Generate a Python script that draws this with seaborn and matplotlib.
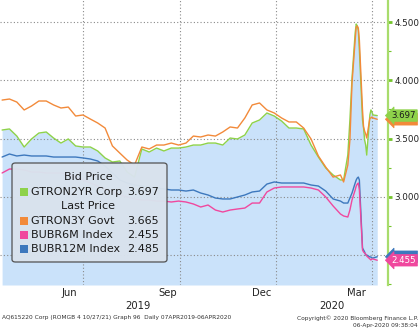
import numpy as np
import pandas as pd
import matplotlib
matplotlib.use("Agg")
import matplotlib.pyplot as plt
import matplotlib.transforms as mtransforms
from matplotlib.patches import FancyBboxPatch, Rectangle
import seaborn as sns

# ---------------- data ----------------
weekly_dates = list(pd.date_range("2019-04-15", "2020-02-24", freq="7D"))
march_dates = pd.to_datetime([
    "2020-03-02", "2020-03-05", "2020-03-09", "2020-03-11", "2020-03-13",
    "2020-03-16", "2020-03-17", "2020-03-18", "2020-03-19", "2020-03-20",
    "2020-03-23", "2020-03-24", "2020-03-25", "2020-03-26", "2020-03-27",
    "2020-03-30", "2020-03-31", "2020-04-01", "2020-04-02", "2020-04-06"])
dates = weekly_dates + list(march_dates)

gtron2yr = [3.573, 3.582, 3.521, 3.427, 3.496, 3.547, 3.556, 3.504, 3.461, 3.496,
            3.436, 3.427, 3.427, 3.393, 3.333, 3.298, 3.307, 3.212, 3.169, 3.410,
            3.384, 3.418, 3.393, 3.418, 3.418, 3.427, 3.444, 3.444, 3.461, 3.461,
            3.444, 3.504, 3.496, 3.530, 3.633, 3.659, 3.719, 3.693, 3.650, 3.590,
            3.590, 3.582, 3.444, 3.341, 3.247, 3.187,
            3.144, 3.144, 3.358, 3.659, 4.019, 4.406, 4.483, 4.466, 4.431, 4.260,
            3.659, 3.590, 3.487, 3.444, 3.358, 3.702, 3.745, 3.727, 3.702, 3.697]
gtron3y = [3.830, 3.839, 3.813, 3.745, 3.779, 3.822, 3.822, 3.788, 3.762, 3.770,
           3.693, 3.702, 3.667, 3.633, 3.590, 3.436, 3.375, 3.315, 3.272, 3.427,
           3.410, 3.444, 3.444, 3.461, 3.444, 3.461, 3.521, 3.513, 3.530, 3.521,
           3.556, 3.599, 3.590, 3.676, 3.788, 3.805, 3.745, 3.719, 3.676, 3.642,
           3.642, 3.590, 3.496, 3.350, 3.255, 3.169,
           3.187, 3.127, 3.272, 3.487, 3.976, 4.345, 4.457, 4.466, 4.448, 4.345,
           3.745, 3.599, 3.564, 3.539, 3.504, 3.676, 3.676, 3.685, 3.676, 3.665]
bubr6m = [3.204, 3.238, 3.238, 3.230, 3.212, 3.212, 3.204, 3.204, 3.204, 3.187,
          3.169, 3.144, 3.118, 3.092, 3.067, 3.041, 3.015, 2.998, 2.981, 2.972,
          2.972, 2.963, 2.963, 2.955, 2.963, 2.955, 2.938, 2.912, 2.929, 2.886,
          2.869, 2.886, 2.895, 2.903, 2.946, 2.946, 3.041, 3.075, 3.084, 3.084,
          3.084, 3.084, 3.075, 3.058, 2.998, 2.921,
          2.852, 2.835, 2.826, 2.886, 2.972, 3.058, 3.092, 3.109, 3.118, 3.058,
          2.543, 2.526, 2.517, 2.509, 2.491, 2.466, 2.457, 2.466, 2.466, 2.455]
bubr12m = [3.341, 3.367, 3.350, 3.358, 3.350, 3.350, 3.350, 3.341, 3.341, 3.341,
           3.341, 3.333, 3.324, 3.307, 3.264, 3.204, 3.144, 3.118, 3.101, 3.092,
           3.084, 3.075, 3.067, 3.058, 3.058, 3.049, 3.058, 3.032, 3.015, 2.989,
           2.981, 2.981, 2.998, 3.015, 3.041, 3.049, 3.109, 3.127, 3.118, 3.118,
           3.118, 3.118, 3.101, 3.092, 3.049, 2.981,
           2.963, 2.946, 2.946, 2.989, 3.032, 3.118, 3.144, 3.161, 3.169, 3.144,
           2.560, 2.543, 2.526, 2.500, 2.500, 2.483, 2.483, 2.474, 2.474, 2.485]

series_names = ["GTRON2YR Corp", "GTRON3Y Govt", "BUBR6M Index", "BUBR12M Index"]
series_values = [gtron2yr, gtron3y, bubr6m, bubr12m]
colors = ["#8ed24a", "#f28a3a", "#f0489e", "#3d78bd"]
y_ticks = [2.5, 3.0, 3.5, 4.0, 4.5]
y_tick_labels = ["", "3.000", "3.500", "4.000", "4.500"]   # 2.500 is covered by the value tags
y_minor_ticks = [2.25, 2.75, 3.25, 3.75, 4.25]
month_labels = ["Jun", "Sep", "Dec", "Mar"]
month_label_dates = pd.to_datetime(["2019-06-18", "2019-09-20", "2019-12-18", "2020-03-17"])
grid_dates = pd.to_datetime(["2019-07-01", "2019-10-01", "2020-01-01", "2020-04-01"])
year_labels = ["2019", "2020"]

# ---------------- figure ----------------
sns.set_theme(style="white")
plt.rcParams['font.family'] = ['DejaVu Sans']

W, H = 420, 330
fig = plt.figure(figsize=(W / 100, H / 100), dpi=100)
ax = fig.add_axes([0.0, 1 - 285 / H, 388 / W, 285 / H])
ax.set_facecolor("white")

x_left = pd.Timestamp("2019-04-13")
x_right = pd.Timestamp("2020-04-16 06:00")
y_bottom, y_top = 2.2425, 4.689

# area under the bid-price series
ax.fill_between(dates, gtron2yr, y_bottom, color="#cae2fa", lw=0, zorder=1)

# grid
for gd in grid_dates:
    ax.axvline(gd, color="#8a8a8a", lw=0.8, ls=(0, (1, 2)), zorder=2)
for yt in y_ticks:
    ax.axhline(yt, color="#8a8a8a", lw=0.8, ls=(0, (1, 2)), zorder=2)

df = pd.concat([pd.DataFrame({"date": dates, "value": v, "series": n})
                for n, v in zip(series_names, series_values)], ignore_index=True)
palette = dict(zip(series_names, colors))
draw_order = ["BUBR12M Index", "BUBR6M Index", "GTRON2YR Corp", "GTRON3Y Govt"]
for name in draw_order:
    sns.lineplot(data=df[df.series == name], x="date", y="value", color=palette[name],
                 lw=1.0, ax=ax, legend=False, zorder=3)
ax.set_xlabel("")
ax.set_ylabel("")

# spines / axes
for s in ["top", "left", "bottom"]:
    ax.spines[s].set_visible(False)
ax.spines["right"].set_color("#a8dc6c")
ax.spines["right"].set_linewidth(1.6)

ax.yaxis.tick_right()
ax.set_yticks(y_ticks)
ax.set_yticklabels(y_tick_labels)
ax.set_yticks(y_minor_ticks, minor=True)
ax.tick_params(axis="y", which="major", length=3, width=2.0, color="#74c52c",
               labelsize=6.3, labelcolor="#222222", pad=1.5)
ax.tick_params(axis="y", which="minor", length=2.5, width=0.8, color="#74c52c")

ax.set_xticks(grid_dates)
ax.set_xticklabels([""] * len(grid_dates))
ax.set_xticks(month_label_dates, minor=True)
ax.set_xticklabels(month_labels, minor=True)
ax.tick_params(axis="x", which="major", length=3, width=0.6, color="#9a9a9a",
               direction="inout")
ax.tick_params(axis="x", which="minor", length=0, labelsize=7.2,
               labelcolor="#222222", pad=2.5)

# limits last (setting ticks can widen them)
ax.set_xlim(x_left, x_right)
ax.set_ylim(y_bottom, y_top)

# year labels
yr_tr = mtransforms.blended_transform_factory(ax.transData, fig.transFigure)
jan1 = pd.Timestamp("2020-01-01")
ax.text(x_left + (jan1 - x_left) / 2, 1 - 306 / H, year_labels[0], transform=yr_tr,
        ha="center", va="center", fontsize=7.2, color="#222222", clip_on=False)
ax.text(jan1 + (x_right - jan1) / 2, 1 - 306 / H, year_labels[1], transform=yr_tr,
        ha="center", va="center", fontsize=7.2, color="#222222", clip_on=False)

# value tags on the right axis (tags hidden behind another are drawn without text)
tag_tr = mtransforms.blended_transform_factory(ax.transAxes, ax.transData)
tag_specs = [(1, "#f28a3a", "#1a1a1a", False), (0, "#8ed24a", "#1a1a1a", True),
             (3, "#3d78bd", "white", False), (2, "#f0489e", "white", True)]
for idx, fc, tc, show in tag_specs:
    v = series_values[idx][-1]
    label = f"{v:.3f}" if show else " " * 9
    ax.text(1.009, v, label, transform=tag_tr, ha="left", va="center",
            fontsize=6.2, color=tc, clip_on=False, zorder=10,
            bbox=dict(boxstyle="larrow,pad=0.15", fc=fc, ec=fc, lw=0.5))

# legend box (drawn manually to mimic Bloomberg)
def fx(px):
    return px / W

def fy(py):
    return 1 - py / H

box = FancyBboxPatch((fx(12), fy(262)), fx(167) - fx(12), fy(163) - fy(262),
                     boxstyle="round,pad=0,rounding_size=0.008",
                     transform=fig.transFigure, fc="#d9e3ed", ec="#4d4d4d",
                     lw=0.9, alpha=0.97, zorder=5)
fig.add_artist(box)
txt_kw = dict(fontsize=8, color="#1a1a1a", va="center", zorder=6)
fig.text(fx(88), fy(177), "Bid Price", ha="center", **txt_kw)
fig.text(fx(88), fy(206), "Last Price", ha="center", **txt_kw)
row_y = [192, 221, 235, 249]
for i, (name, vals, c) in enumerate(zip(series_names, series_values, colors)):
    yy = row_y[i]
    sq = Rectangle((fx(20), fy(yy + 4)), fx(28) - fx(20), fy(yy - 4) - fy(yy + 4),
                   transform=fig.transFigure, fc=c, ec="none", zorder=6)
    fig.add_artist(sq)
    fig.text(fx(31), fy(yy), name, ha="left", **txt_kw)
    fig.text(fx(159), fy(yy), f"{vals[-1]:.3f}", ha="right", **txt_kw)

# footer
foot_kw = dict(va="center", fontsize=4.2, color="#333333")
fig.text(fx(2), fy(318), "AQ615220 Corp (ROMGB 4 10/27/21) Graph 96  Daily 07APR2019-06APR2020",
         ha="left", **foot_kw)
fig.text(fx(418), fy(318), "Copyright\u00a9 2020 Bloomberg Finance L.P.", ha="right", **foot_kw)
fig.text(fx(418), fy(326), "06-Apr-2020 09:38:04", ha="right", **foot_kw)

fig.savefig("out.png", dpi=100, facecolor="white")
